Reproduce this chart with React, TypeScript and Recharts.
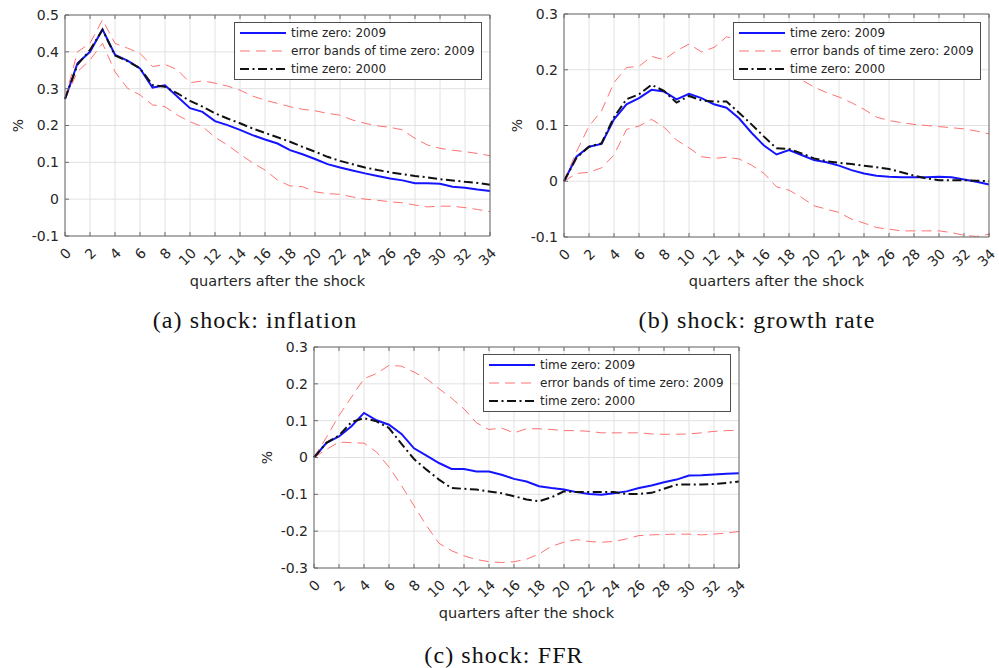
import React from 'react'
import { LineChart, Line, XAxis, YAxis, CartesianGrid, Legend, Label } from 'recharts'

const SANS = '"DejaVu Sans", "Liberation Sans", sans-serif'
const SERIF = '"Liberation Serif", "DejaVu Serif", serif'

const quarters = [0, 1, 2, 3, 4, 5, 6, 7, 8, 9, 10, 11, 12, 13, 14, 15, 16, 17, 18, 19, 20, 21, 22, 23, 24, 25, 26, 27, 28, 29, 30, 31, 32, 33, 34]
const quarterTicks = [0, 2, 4, 6, 8, 10, 12, 14, 16, 18, 20, 22, 24, 26, 28, 30, 32, 34]

// (a) shock: inflation
const inflation2009 = [0.272, 0.369, 0.400, 0.461, 0.392, 0.376, 0.355, 0.303, 0.309, 0.278, 0.247, 0.237, 0.212, 0.201, 0.188, 0.174, 0.162, 0.151, 0.133, 0.122, 0.109, 0.095, 0.086, 0.078, 0.070, 0.063, 0.056, 0.051, 0.043, 0.043, 0.042, 0.034, 0.031, 0.026, 0.022]
const inflationUpper = [0.272, 0.400, 0.423, 0.487, 0.423, 0.410, 0.396, 0.360, 0.366, 0.351, 0.316, 0.321, 0.315, 0.307, 0.296, 0.280, 0.269, 0.260, 0.251, 0.244, 0.240, 0.233, 0.228, 0.215, 0.206, 0.199, 0.195, 0.188, 0.165, 0.147, 0.138, 0.133, 0.129, 0.124, 0.118]
const inflationLower = [0.272, 0.346, 0.378, 0.423, 0.346, 0.301, 0.283, 0.256, 0.251, 0.228, 0.210, 0.197, 0.168, 0.147, 0.122, 0.099, 0.079, 0.052, 0.036, 0.034, 0.020, 0.015, 0.013, 0.006, 0.000, -0.003, -0.007, -0.010, -0.016, -0.021, -0.019, -0.019, -0.023, -0.028, -0.034]
const inflation2000 = [0.272, 0.365, 0.405, 0.460, 0.390, 0.375, 0.355, 0.310, 0.305, 0.287, 0.267, 0.251, 0.233, 0.219, 0.206, 0.192, 0.180, 0.168, 0.156, 0.142, 0.129, 0.115, 0.104, 0.095, 0.086, 0.079, 0.073, 0.068, 0.063, 0.059, 0.054, 0.051, 0.047, 0.044, 0.039]
const inflationTicks = [-0.1, 0, 0.1, 0.2, 0.3, 0.4, 0.5]

// (b) shock: growth rate
const growth2009 = [0, 0.044, 0.062, 0.067, 0.111, 0.138, 0.149, 0.164, 0.161, 0.147, 0.157, 0.149, 0.138, 0.132, 0.113, 0.087, 0.064, 0.048, 0.056, 0.047, 0.038, 0.034, 0.028, 0.020, 0.014, 0.010, 0.008, 0.007, 0.007, 0.007, 0.008, 0.007, 0.003, -0.001, -0.006]
const growthUpper = [0, 0.053, 0.099, 0.126, 0.177, 0.204, 0.206, 0.224, 0.218, 0.234, 0.246, 0.232, 0.240, 0.259, 0.255, 0.240, 0.225, 0.210, 0.195, 0.182, 0.169, 0.159, 0.151, 0.141, 0.129, 0.115, 0.109, 0.105, 0.102, 0.100, 0.098, 0.096, 0.094, 0.090, 0.085]
const growthLower = [0, 0.014, 0.016, 0.024, 0.047, 0.093, 0.099, 0.111, 0.097, 0.074, 0.060, 0.044, 0.041, 0.043, 0.040, 0.029, 0.014, -0.010, -0.016, -0.029, -0.044, -0.050, -0.056, -0.068, -0.075, -0.083, -0.086, -0.089, -0.089, -0.089, -0.089, -0.092, -0.097, -0.099, -0.095]
const growth2000 = [0, 0.042, 0.062, 0.068, 0.115, 0.147, 0.156, 0.173, 0.162, 0.141, 0.153, 0.145, 0.143, 0.143, 0.123, 0.102, 0.080, 0.059, 0.058, 0.050, 0.041, 0.036, 0.033, 0.031, 0.028, 0.025, 0.022, 0.016, 0.010, 0.005, 0.002, 0.002, 0.002, 0.001, 0.000]
const growthTicks = [-0.1, 0, 0.1, 0.2, 0.3]

// (c) shock: FFR
const ffr2009 = [0, 0.040, 0.057, 0.085, 0.121, 0.101, 0.089, 0.064, 0.025, 0.005, -0.015, -0.031, -0.031, -0.038, -0.038, -0.047, -0.058, -0.065, -0.078, -0.083, -0.087, -0.094, -0.099, -0.101, -0.097, -0.092, -0.083, -0.076, -0.067, -0.060, -0.049, -0.048, -0.046, -0.044, -0.043]
const ffrUpper = [0, 0.055, 0.114, 0.164, 0.214, 0.228, 0.250, 0.248, 0.232, 0.214, 0.187, 0.161, 0.132, 0.094, 0.076, 0.080, 0.067, 0.078, 0.078, 0.076, 0.073, 0.073, 0.071, 0.067, 0.067, 0.067, 0.067, 0.064, 0.063, 0.063, 0.064, 0.067, 0.071, 0.073, 0.074]
const ffrLower = [0, 0.022, 0.042, 0.040, 0.039, 0.015, -0.026, -0.076, -0.131, -0.185, -0.233, -0.253, -0.267, -0.277, -0.283, -0.285, -0.283, -0.276, -0.262, -0.241, -0.230, -0.223, -0.228, -0.230, -0.228, -0.221, -0.212, -0.210, -0.209, -0.208, -0.208, -0.210, -0.208, -0.205, -0.201]
const ffr2000 = [0, 0.040, 0.060, 0.096, 0.107, 0.098, 0.080, 0.037, -0.004, -0.033, -0.060, -0.083, -0.085, -0.087, -0.092, -0.097, -0.105, -0.114, -0.119, -0.108, -0.092, -0.094, -0.094, -0.094, -0.094, -0.099, -0.099, -0.096, -0.085, -0.074, -0.073, -0.073, -0.072, -0.069, -0.065]
const ffrTicks = [-0.3, -0.2, -0.1, 0, 0.1, 0.2, 0.3]

const legendLabels = ['time zero: 2009', 'error bands of time zero: 2009', 'time zero: 2000']

const BLUE = { stroke: '#1414ff', strokeWidth: 2 }
const BAND = { stroke: '#ff6262', strokeWidth: 0.9, strokeDasharray: '10 6' }
const BLACK = { stroke: '#111111', strokeWidth: 2, strokeDasharray: '9 3.5 2 3.5' }
const legendStyles = [BLUE, BAND, BLACK]

const AXIS = '#6b6b6b'
const TEXT = '#262626'

const buildRows = (main: number[], upper: number[], lower: number[], alt: number[]) =>
  quarters.map((q, i) => ({ q, main: main[i], upper: upper[i], lower: lower[i], alt: alt[i] }))

// x labels are turned 45 degrees, their end sitting just right of the tick
const QuarterTick = ({ x, y, payload }: any) => {
  const ax = x + 7
  return (
    <text x={ax} y={y} transform={`rotate(-45 ${ax} ${y})`} textAnchor="end"
      fontSize={14} fontFamily={SANS} fill={TEXT}>
      {payload.value}
    </text>
  )
}

const EmptyTick = () => <g />

const LegendBox = () => (
  <svg width={248} height={58} style={{ display: 'block' }}>
    <rect x={0.5} y={0.5} width={247} height={57} fill="#ffffff" stroke="#4d4d4d" />
    {legendLabels.map((label, i) => {
      const y = 11 + 18 * i
      return (
        <g key={label}>
          <line x1={6} x2={52} y1={y} y2={y} {...legendStyles[i]} />
          <text x={57} y={y} dominantBaseline="central" fontSize={12} fontFamily={SANS} fill={TEXT}>{label}</text>
        </g>
      )
    })}
  </svg>
)

const PercentLabel = ({ viewBox }: any) => {
  const cx = viewBox.x + 18
  const cy = viewBox.y + viewBox.height / 2
  return (
    <text x={cx} y={cy} transform={`rotate(-90 ${cx} ${cy})`} textAnchor="middle"
      dominantBaseline="central" fontSize={14} fontFamily={SANS} fill={TEXT}>%</text>
  )
}

interface PanelProps {
  rows: ReturnType<typeof buildRows>
  yTicks: number[]
  left: number
  top: number
  marginTop: number
}

const Panel = ({ rows, yTicks, left, top, marginTop }: PanelProps) => {
  const domain: [number, number] = [yTicks[0], yTicks[yTicks.length - 1]]
  return (
    <div style={{ position: 'absolute', left, top }}>
      <LineChart width={520} height={300} data={rows} margin={{ top: marginTop - 1, right: 29, left: 0, bottom: 0 }}>
        <CartesianGrid stroke="#e2e2e2" />
        <XAxis xAxisId="top" orientation="top" type="number" dataKey="q" domain={[0, 34]} ticks={quarterTicks}
          height={1} tick={EmptyTick} tickSize={-4} axisLine={{ stroke: AXIS }} tickLine={{ stroke: AXIS }} />
        <XAxis type="number" dataKey="q" domain={[0, 34]} ticks={quarterTicks} interval={0}
          height={64 - (15 - marginTop)} tick={QuarterTick} tickSize={-4} tickMargin={22}
          axisLine={{ stroke: AXIS }} tickLine={{ stroke: AXIS }}>
          <Label value="quarters after the shock" position="insideBottom" offset={14}
            fontSize={14.5} fontFamily={SANS} fill={TEXT} />
        </XAxis>
        <YAxis yAxisId="right" orientation="right" type="number" domain={domain} ticks={yTicks}
          width={1} tick={EmptyTick} tickSize={-4} axisLine={{ stroke: AXIS }} tickLine={{ stroke: AXIS }} />
        <YAxis type="number" domain={domain} ticks={yTicks} interval={0} width={65}
          tickSize={-4} tickMargin={10} axisLine={{ stroke: AXIS }} tickLine={{ stroke: AXIS }}
          tick={{ fontSize: 14, fontFamily: SANS, fill: TEXT }}>
          <Label content={PercentLabel} />
        </YAxis>
        <Line dataKey="main" type="linear" dot={false} isAnimationActive={false} {...BLUE} />
        <Line dataKey="upper" type="linear" dot={false} isAnimationActive={false} {...BAND} />
        <Line dataKey="lower" type="linear" dot={false} isAnimationActive={false} {...BAND} />
        <Line dataKey="alt" type="linear" dot={false} isAnimationActive={false} {...BLACK} />
        <Legend layout="vertical" align="center" verticalAlign="middle" content={LegendBox}
          wrapperStyle={{ left: 234, top: 22, width: 248, height: 58 }} />
      </LineChart>
    </div>
  )
}

const Caption = ({ text, cx, cy }: { text: string, cx: number, cy: number }) => (
  <div style={{
    position: 'absolute', left: cx - 200, top: cy - 15, width: 400, height: 30, lineHeight: '30px',
    textAlign: 'center', fontFamily: SERIF, fontSize: 24, letterSpacing: 1.1, color: '#111'
  }}>
    {text}
  </div>
)

export default function App () {
  return (
    <div style={{ position: 'absolute', left: 0, top: 0, width: 999, height: 668, background: '#ffffff', overflow: 'hidden' }}>
      <Panel rows={buildRows(inflation2009, inflationUpper, inflationLower, inflation2000)} yTicks={inflationTicks} left={0} top={0} marginTop={15} />
      <Panel rows={buildRows(growth2009, growthUpper, growthLower, growth2000)} yTicks={growthTicks} left={499} top={0} marginTop={14} />
      <Panel rows={buildRows(ffr2009, ffrUpper, ffrLower, ffr2000)} yTicks={ffrTicks} left={249} top={332} marginTop={15} />
      <Caption text="(a) shock: inflation" cx={255} cy={320} />
      <Caption text="(b) shock: growth rate" cx={757} cy={320} />
      <Caption text="(c) shock: FFR" cx={504} cy={655} />
    </div>
  )
}
